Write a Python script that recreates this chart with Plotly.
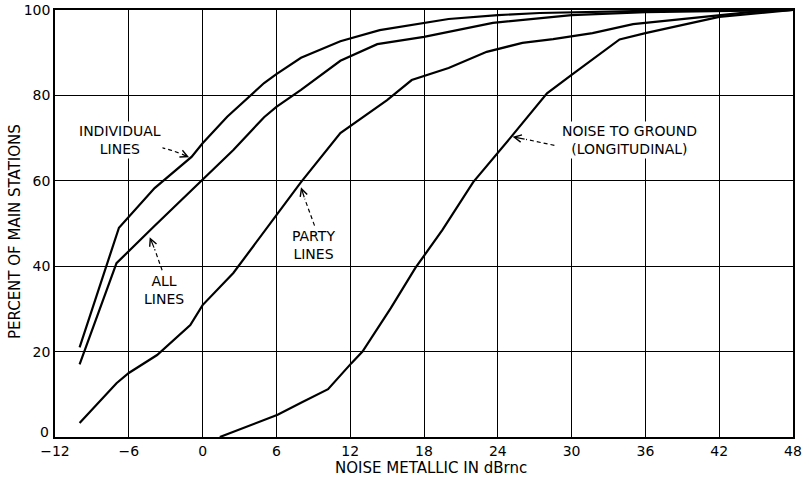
import plotly.graph_objects as go

# ---- data ----
ind_x = [-10, -7, -6.8, -3.9, -0.9, 0, 2, 5, 6, 8, 11.2, 14.4, 18, 20, 24, 27.4, 36, 48]
ind_y = [21, 47.5, 49, 58.3, 65.6, 68.8, 75, 82.9, 85, 88.8, 92.7, 95.3, 96.9, 97.9, 98.8, 99.3, 99.8, 100]

all_x = [-10, -7, -4, 0, 2.5, 5, 6, 8, 11.2, 14.2, 18, 23.6, 27.4, 30, 36, 48]
all_y = [17, 40.7, 49.2, 60.2, 67.2, 74.9, 77.3, 81.3, 88.1, 92.0, 93.7, 97.0, 98.1, 98.8, 99.5, 100]

party_x = [-10, -7, -6, -3.7, -1, 0, 2.5, 6.1, 8, 11.2, 15, 17, 20, 23.1, 26, 28.5, 31.7, 35, 42, 44.5, 48]
party_y = [3.3, 12.6, 15, 19.2, 26.2, 30.9, 38.4, 52.5, 59.7, 71.2, 78.9, 83.6, 86.4, 90.2, 92.3, 93.2, 94.6, 96.7, 98.8, 99.5, 100]

gnd_x = [1.4, 6.1, 8, 10.2, 12.1, 13, 15.3, 17.3, 19.5, 22, 25, 28, 30, 33.9, 36, 42, 48]
gnd_y = [0, 5.2, 8, 11.2, 17.3, 20, 30.2, 39.6, 48.5, 59.7, 70, 80.5, 84.8, 93.1, 94.6, 98.4, 100]

x_ticks = [-12, -6, 0, 6, 12, 18, 24, 30, 36, 42, 48]
y_ticks = [0, 20, 40, 60, 80, 100]
# the "0" y label is drawn separately, nudged up so it clears "−12"
y_ticktext = ["", "20", "40", "60", "80", "100"]

FONT = "DejaVu Sans"
fig = go.Figure()

for xs, ys in [(ind_x, ind_y), (all_x, all_y), (party_x, party_y), (gnd_x, gnd_y)]:
    fig.add_trace(go.Scatter(x=xs, y=ys, mode="lines",
                             line=dict(color="black", width=2.2),
                             hoverinfo="skip", showlegend=False, cliponaxis=False))

# label callouts: (text, text x, text y, dashed leader points, arrow tip)
callouts = [
    ("INDIVIDUAL<br>LINES", -6.7, 69.6, [(-3.9, 68.2), (-2.6, 67.2), (-1.8, 66.4)], (-1.1, 65.5)),
    ("ALL<br>LINES", -3.1, 34.4, [(-3.1, 37.5), (-3.6, 41.5), (-3.9, 44.0)], (-4.3, 46.8)),
    ("PARTY<br>LINES", 9.0, 45.0, [(9.1, 49.5), (8.5, 53.9), (8.3, 55.8)], (8.0, 58.5)),
    ("NOISE TO GROUND<br>(LONGITUDINAL)", 34.7, 69.6, [(28.6, 68.3), (27.2, 69.2), (26.3, 69.7)], (25.2, 70.3)),
]
for text, tx, ty, pts, tip in callouts:
    fig.add_annotation(x=tx, y=ty, text=text, showarrow=False,
                       font=dict(family=FONT, size=14, color="black"),
                       align="center", bgcolor="white")
    fig.add_trace(go.Scatter(x=[p[0] for p in pts], y=[p[1] for p in pts], mode="lines",
                             line=dict(color="black", width=1.2, dash="4px,3px"),
                             hoverinfo="skip", showlegend=False))
    fig.add_annotation(x=tip[0], y=tip[1], ax=pts[-1][0], ay=pts[-1][1],
                       axref="x", ayref="y", text="", showarrow=True,
                       arrowhead=5, arrowsize=1.2, arrowwidth=1.2, arrowcolor="black")

fig.add_annotation(text=str(y_ticks[0]), xref="paper", y=y_ticks[0], yref="y",
                   x=0, xanchor="right", yanchor="middle", xshift=-4, yshift=5,
                   showarrow=False, font=dict(family=FONT, size=14, color="black"))

fig.add_annotation(text="PERCENT OF MAIN STATIONS", xref="paper", yref="paper",
                   x=0, y=0.48, xshift=-40, xanchor="center", yanchor="middle",
                   textangle=-90, showarrow=False,
                   font=dict(family=FONT, size=15, color="black"))
fig.add_annotation(text="NOISE METALLIC IN dBrnc", xref="paper", yref="paper",
                   x=0.51, y=0, yshift=-31, xanchor="center", yanchor="middle",
                   showarrow=False,
                   font=dict(family=FONT, size=15, color="black"))

axis_common = dict(showgrid=True, gridcolor="black", gridwidth=1,
                   showline=True, linecolor="black", linewidth=1.5, mirror=True,
                   zeroline=False, ticks="", ticklabeloverflow="allow",
                   tickfont=dict(family=FONT, size=14, color="black"))
fig.update_xaxes(range=[-12, 48], tickvals=x_ticks, **axis_common)
fig.update_yaxes(range=[0, 100], tickvals=y_ticks, ticktext=y_ticktext, **axis_common)

fig.update_layout(width=809, height=483,
                  margin=dict(l=55, r=16, t=10, b=46, autoexpand=False),
                  paper_bgcolor="white", plot_bgcolor="white",
                  font=dict(family=FONT, color="black"))

# remove the browser's default 8px body margin so the figure fills the window
fig.write_html("out.html", config={"displayModeBar": False},
               post_script="document.body.style.margin='0';")
